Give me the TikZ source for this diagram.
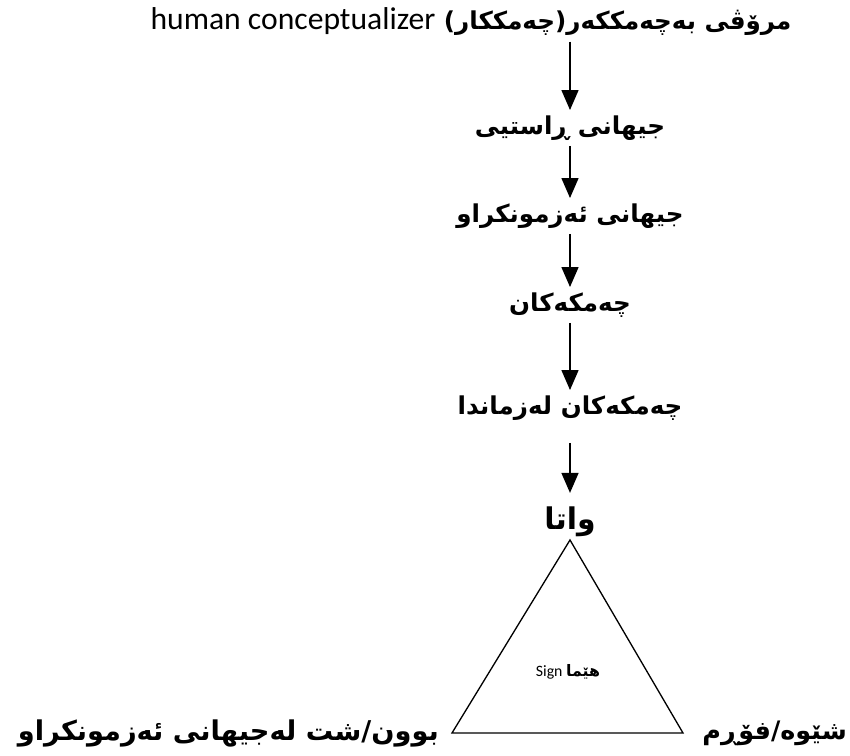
\documentclass[tikz,border=0pt]{standalone}
\usepackage{fontspec}
\usetikzlibrary{arrows.meta}
\TeXXeTstate=1
\newfontfamily\kurdfont[Script=Arabic]{DejaVu Sans}
\newfontfamily\latfont{Carlito}

\tikzset{
  kurd/.style={font=\kurdfont\bfseries\fontsize{14}{16}\selectfont, inner sep=3pt},
  kurdbig/.style={font=\kurdfont\bfseries\fontsize{17}{19}\selectfont, inner sep=1pt},
  kurdlow/.style={font=\kurdfont\bfseries\fontsize{15.5}{17}\selectfont, inner sep=1pt},
  flow/.style={-{Triangle[length=0.4cm,width=0.34cm]}, line width=0.85pt},
}
\newcommand{\rtl}[1]{\beginR #1\endR}

\begin{document}
\begin{tikzpicture}[x=0.02cm,y=-0.02cm]
\useasboundingbox (0,0) rectangle (850,756);

\node [kurd, anchor=west] (human) at (145,22) {\rtl{مرۆڤی بەچەمککەر(چەمککار) \beginL{\latfont\mdseries\fontsize{18}{20}\selectfont human conceptualizer}\endL}};

\node [kurd] (real) at (570,128) {\rtl{جیهانی ڕاستیی}};
\node [kurd] (lived) at (570,216) {\rtl{جیهانی ئەزمونکراو}};
\node [kurd] (concepts) at (570,305) {\rtl{چەمکەکان}};
\node [kurd] (inlang) at (570,408) {\rtl{چەمکەکان لەزماندا}};
\node [kurdbig] (meaning) at (570,522) {\rtl{واتا}};

\draw [flow] (human.south -| real) -- (real);
\draw [flow] (real) -- (lived);
\draw [flow] (lived) -- (concepts);
\draw [flow] (concepts) -- (inlang);
\draw [flow, shorten <=0.34cm, shorten >=0.24cm] (inlang) -- (meaning);

\coordinate (apex) at (570,540);
\coordinate (bl) at (452,733);
\coordinate (br) at (683,733);
\draw [line width=0.75pt] (apex) -- (bl) -- (br) -- cycle;

\node [font=\latfont\fontsize{9}{10}\selectfont] (sign) at (568,672) {\rtl{{\kurdfont\bfseries هێما} \beginL Sign\endL}};

\node [kurdlow, anchor=east] (thing) at (441,733) {\rtl{بوون/شت لەجیهانی ئەزمونکراو}};
\node [kurdlow, anchor=east, font=\kurdfont\bfseries\fontsize{14.5}{16}\selectfont] (form) at (849,733) {\rtl{شێوە/فۆڕم}};

\end{tikzpicture}
\end{document}
